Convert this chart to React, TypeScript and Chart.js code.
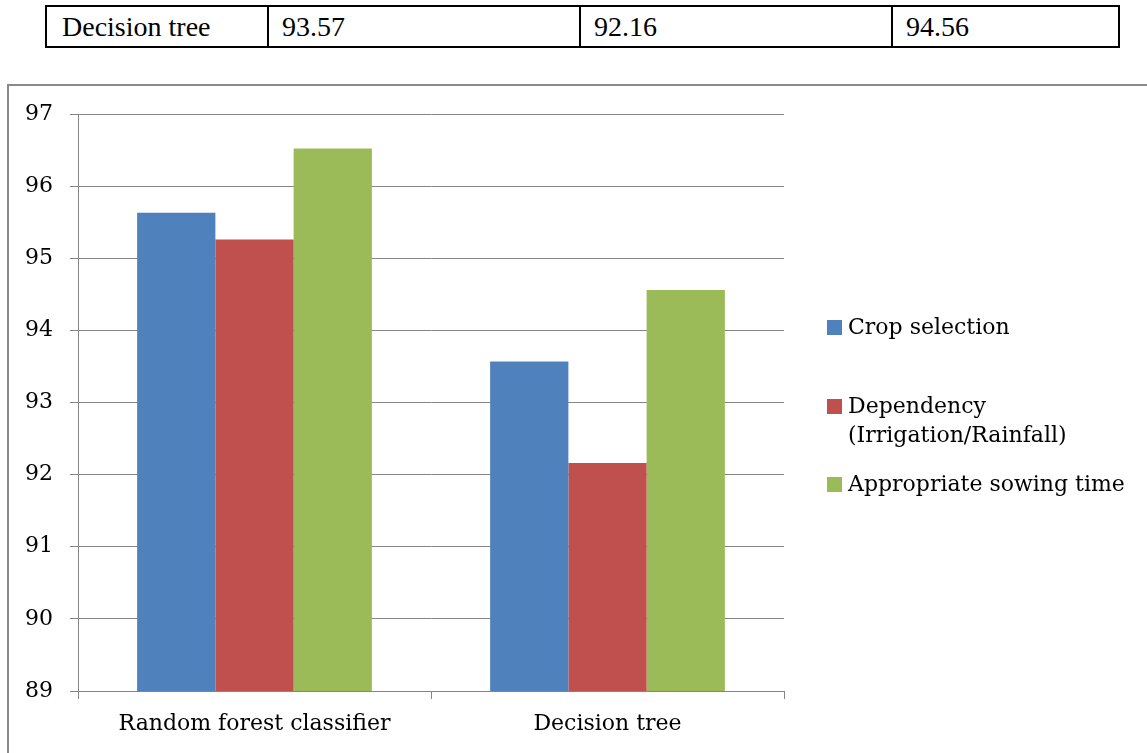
import React, { useEffect, useRef } from "react";
import { Chart, registerables } from "chart.js";

Chart.register(...registerables);

const categories = ["Random forest classifier", "Decision tree"];
const seriesNames = ["Crop selection", "Dependency\n(Irrigation/Rainfall)", "Appropriate sowing time"];
const cropSelection = [95.63, 93.57];
const dependency = [95.26, 92.16];
const sowingTime = [96.52, 94.56];
const seriesColors = ["#4F81BD", "#C0504D", "#9BBB59"];
const tableRow = ["Decision tree", "93.57", "92.16", "94.56"];
const yMin = 89;
const yMax = 97;

const FONT = "'DejaVu Serif', serif";
const TABLE_FONT = "'Liberation Serif', 'DejaVu Serif', serif";
const GRID = "#858585";

export default function App() {
  const canvasRef = useRef<HTMLCanvasElement | null>(null);

  useEffect(() => {
    const canvas = canvasRef.current;
    if (!canvas) return;
    const values = [cropSelection, dependency, sowingTime];
    const chart = new Chart(canvas, {
      type: "bar",
      data: {
        labels: categories,
        datasets: values.map((v, i) => ({
          label: seriesNames[i].replace("\n", " "),
          data: v,
          backgroundColor: seriesColors[i],
          borderWidth: 0,
          categoryPercentage: 0.665,
          barPercentage: 1,
        })),
      },
      options: {
        animation: false,
        responsive: false,
        devicePixelRatio: 1,
        layout: { padding: { left: 0, top: 114, right: 363, bottom: 0 } },
        plugins: { legend: { display: false }, tooltip: { enabled: false } },
        scales: {
          x: {
            afterFit: (s: any) => {
              s.height = 62;
            },
            grid: {
              offset: true,
              drawOnChartArea: false,
              drawTicks: true,
              tickLength: 8,
              color: GRID,
              lineWidth: 1,
            },
            border: { display: true, color: GRID, width: 1 },
            ticks: { color: "#000", font: { family: FONT, size: 22 }, padding: 12, maxRotation: 0 },
          },
          y: {
            min: yMin,
            max: yMax,
            afterFit: (s: any) => {
              s.width = 78;
            },
            ticks: { stepSize: 1, color: "#000", font: { family: FONT, size: 22 }, padding: 17 },
            grid: { color: GRID, lineWidth: 1, tickLength: 8, drawTicks: true },
            border: { display: true, color: GRID, width: 1 },
          },
        },
      },
    });
    return () => chart.destroy();
  }, []);

  const legendGaps = [0, 50, 20];
  const colEdges = [45, 267, 579, 891, 1120];

  return (
    <div style={{ position: "relative", width: 1147, height: 753, overflow: "hidden", background: "#fff" }}>
      <style>{`body{margin:0;}`}</style>
      {/* table row */}
      <div
        style={{
          position: "absolute",
          left: colEdges[0],
          top: 5,
          width: colEdges[4] - colEdges[0],
          height: 43,
          border: "2px solid #000",
          boxSizing: "border-box",
        }}
      />
      {colEdges.slice(1, 4).map((x, i) => (
        <div key={"d" + i} style={{ position: "absolute", left: x, top: 5, width: 2, height: 43, background: "#000" }} />
      ))}
      {tableRow.map((t, i) => (
        <div
          key={"t" + i}
          style={{
            position: "absolute",
            left: colEdges[i] + (i === 0 ? 17 : 15),
            top: 7,
            height: 39,
            lineHeight: "39px",
            fontFamily: TABLE_FONT,
            fontSize: 28,
            color: "#000",
            whiteSpace: "nowrap",
          }}
        >
          {t}
        </div>
      ))}
      {/* chart frame */}
      <div
        style={{
          position: "absolute",
          left: 7,
          top: 84,
          width: 1300,
          height: 900,
          border: "2px solid #898989",
          boxSizing: "border-box",
        }}
      />
      <canvas ref={canvasRef} width={1147} height={753} style={{ position: "absolute", left: 0, top: 0 }} />
      {/* legend */}
      <div style={{ position: "absolute", left: 827, top: 312, display: "flex", flexDirection: "column" }}>
        {seriesNames.map((n, i) => (
          <div key={"l" + i} style={{ display: "flex", alignItems: "flex-start", marginTop: legendGaps[i] }}>
            <div style={{ width: 15, height: 15, marginTop: 8, background: seriesColors[i], flex: "none" }} />
            <div
              style={{
                marginLeft: 6,
                fontFamily: FONT,
                fontSize: 22,
                lineHeight: "29px",
                whiteSpace: "pre",
                color: "#000",
              }}
            >
              {n}
            </div>
          </div>
        ))}
      </div>
    </div>
  );
}
